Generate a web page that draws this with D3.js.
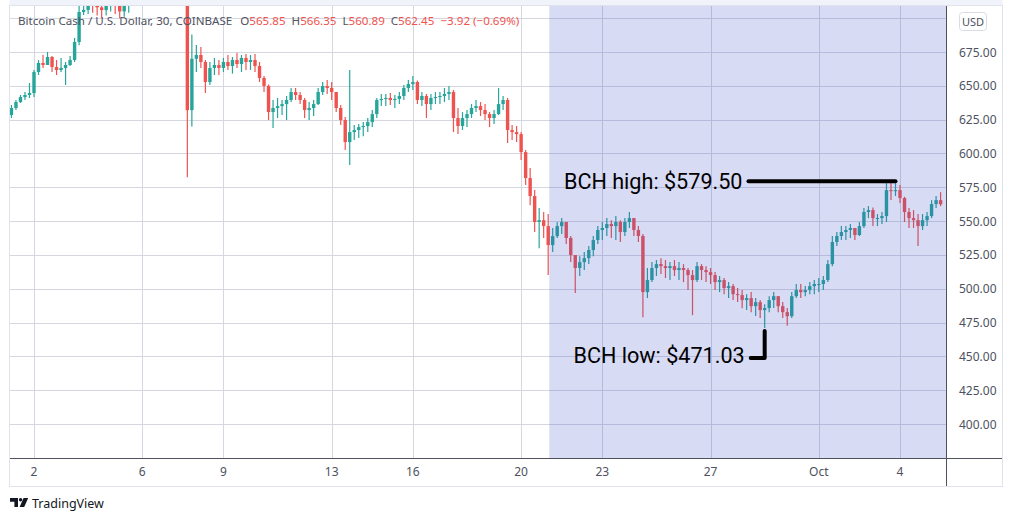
<!DOCTYPE html>
<html>
<head>
<meta charset="utf-8">
<script src="https://cdn.jsdelivr.net/npm/d3@7/dist/d3.min.js"></script>
<style>
  body { margin: 0; background: #fff; }
  svg { display: block; }
</style>
</head>
<body>
<div id="chart"></div>
<script>
"use strict";

// BCH / USD, 4 hour bars from Sep 1 04:00 to Oct 5 12:00
// open of each bar is the close of the one before
const startTime = new Date(2021, 8, 1, 4);
const barHours = 4;
const firstOpen = 628.4;

const high = [
  635.8, 639.5, 643.2, 645.4, 652.1,                 // Sep 1
  661.7, 669.1, 672.8, 675.0, 672.0, 669.1,          // Sep 2
  670.6, 667.6, 672.0, 685.4, 709.0, 715.0,          // Sep 3
  720, 722, 718, 716, 720, 724,                      // Sep 4
  722, 716, 714, 720, 728, 732,                      // Sep 5
  735, 738, 734, 730, 736, 740,                      // Sep 6
  742, 740, 734, 730, 728, 688,                      // Sep 7
  680.2, 678.7, 669.1, 667.6, 670.6, 669.1,          // Sep 8
  670.6, 672.8, 671.3, 674.3, 672.8, 673.5,          // Sep 9
  672.8, 673.5, 667.6, 657.3, 651.0, 639.5,          // Sep 10
  641.0, 639.5, 642.5, 648.4, 648.4, 645.4,          // Sep 11
  641.0, 638.0, 639.5, 648.4, 652.8, 654.3,          // Sep 12
  652.8, 645.4, 635.8, 626.9, 661.7, 621.0,          // Sep 13
  621.7, 623.2, 626.2, 632.1, 641.0, 644.0,          // Sep 14
  644.0, 644.7, 643.2, 645.4, 650.6, 654.3,          // Sep 15
  657.3, 654.0, 645.4, 644.0, 644.0, 645.4,          // Sep 16
  645.4, 648.4, 649.9, 647.0, 633.6, 630.6,          // Sep 17
  632.1, 636.5, 639.5, 638.0, 636.5, 630.6,          // Sep 18
  632.1, 648.4, 642.5, 641.0, 621.0, 620.3,          // Sep 19
  615.8, 602.5, 589.2, 572.9, 559.6, 556.7,          // Sep 20
  555.2, 544.9, 549.3, 552.2, 549.3, 539.0,          // Sep 21
  524.9, 524.1, 527.1, 531.5, 538.9, 546.3,          // Sep 22
  549.3, 552.2, 550.7, 553.7, 550.7, 552.2,          // Sep 23
  556.7, 552.2, 546.3, 540.4, 515.3, 519.7,          // Sep 24
  521.2, 522.6, 521.2, 519.7, 521.2, 519.7,          // Sep 25
  518.2, 515.3, 513.8, 519.7, 518.2, 516.7,          // Sep 26
  515.3, 512.3, 509.4, 507.9, 504.9, 503.5,          // Sep 27
  500.5, 499.0, 496.0, 497.5, 493.1, 491.6,          // Sep 28
  488.6, 494.5, 497.5, 494.5, 490.1, 485.7,          // Sep 29
  497.5, 503.5, 503.5, 502.0, 504.9, 506.4,          // Sep 30
  507.9, 509.4, 521.2, 539.0, 541.9, 546.3,          // Oct 1
  546.3, 547.8, 544.9, 549.3, 559.6, 561.1,          // Oct 2
  560.0, 555.2, 556.7, 578.0, 579.0, 579.5,          // Oct 3
  576.6, 568.0, 559.6, 558.1, 555.2, 555.2,          // Oct 4
  556.7, 565.5, 568.5, 571.4                         // Oct 5
];

const low = [
  626.2, 632.1, 637.3, 639.5, 641.0,
  641.7, 658.0, 663.2, 665.4, 660.2, 658.0,
  660.2, 650.6, 664.6, 667.6, 680.0, 702.4,
  703, 704, 702, 700, 702, 705,
  703, 700, 701, 704, 712, 716,
  718, 720, 718, 714, 716, 722,
  724, 720, 716, 712, 582.5, 620,
  660.2, 663.2, 644.7, 650.6, 658.0, 658.0,
  660.2, 661.7, 659.0, 663.2, 660.2, 661.7,
  661.7, 660.2, 652.8, 645.4, 624.7, 618.8,
  626.2, 628.4, 624.7, 638.0, 639.5, 636.5,
  626.2, 624.7, 627.7, 635.8, 643.2, 644.0,
  639.5, 630.6, 621.0, 602.5, 591.4, 609.9,
  611.4, 612.8, 615.8, 619.5, 626.2, 635.0,
  635.0, 635.8, 633.6, 636.5, 639.5, 645.4,
  646.9, 636.5, 635.0, 626.2, 632.1, 636.5,
  636.5, 638.0, 639.5, 615.8, 614.3, 617.3,
  619.5, 626.2, 630.6, 627.7, 624.7, 619.5,
  621.7, 628.4, 632.1, 607.7, 609.9, 608.4,
  595.1, 576.6, 561.8, 541.9, 530.0, 537.5,
  510.1, 527.1, 537.5, 540.4, 533.0, 519.7,
  496.8, 509.4, 513.8, 518.2, 524.1, 533.0,
  536.0, 539.0, 537.5, 536.0, 534.5, 539.0,
  544.9, 539.0, 534.5, 479.0, 493.1, 504.9,
  509.4, 510.8, 507.9, 506.4, 509.4, 506.4,
  504.9, 499.0, 480.5, 504.9, 506.4, 504.9,
  503.5, 499.0, 497.5, 496.0, 493.1, 491.6,
  490.1, 485.6, 484.2, 482.7, 479.8, 478.3,
  471.03, 482.7, 485.7, 482.7, 478.3, 472.6,
  478.3, 493.1, 493.1, 494.5, 496.0, 496.0,
  497.5, 499.0, 504.9, 516.7, 531.5, 536.0,
  536.0, 537.5, 536.0, 539.0, 544.9, 552.2,
  546.3, 546.3, 547.8, 549.3, 565.5, 568.5,
  563.3, 549.3, 544.9, 544.9, 531.5, 543.4,
  546.3, 552.2, 559.6, 561.1
];

const close = [
  633.6, 638.0, 641.7, 643.2, 644.7,
  660.2, 666.9, 665.4, 671.3, 663.9, 661.7,
  663.2, 665.4, 669.1, 682.4, 704.6, 706.1,
  712, 710, 708, 706, 714, 716,
  712, 705, 709, 716, 722, 726,
  728, 730, 724, 720, 728, 732,
  734, 726, 722, 724, 632, 670,
  672.8, 667.6, 652.8, 663.2, 665.4, 663.2,
  667.6, 664.6, 669.1, 666.1, 670.6, 667.6,
  669.1, 664.6, 655.8, 649.9, 630.6, 633.6,
  635.0, 636.5, 639.5, 645.4, 643.2, 639.5,
  632.1, 633.6, 636.5, 645.4, 649.9, 648.4,
  645.4, 633.6, 624.7, 608.4, 615.8, 617.3,
  619.5, 620.3, 623.2, 629.1, 639.5, 640.3,
  641.0, 639.5, 640.3, 642.5, 648.4, 651.3,
  652.8, 639.5, 642.5, 636.5, 641.0, 641.7,
  642.5, 644.0, 645.4, 626.2, 620.3, 626.2,
  629.1, 633.6, 635.0, 632.1, 629.1, 626.2,
  629.1, 636.5, 639.5, 617.3, 615.8, 614.3,
  601.0, 581.8, 568.5, 549.3, 550.7, 546.3,
  532.3, 538.9, 546.3, 549.3, 537.5, 524.9,
  515.3, 519.7, 522.6, 528.6, 536.0, 543.4,
  544.9, 547.8, 546.3, 549.3, 541.9, 549.3,
  552.2, 543.4, 539.0, 497.5, 506.4, 515.3,
  518.2, 516.7, 515.3, 516.7, 513.8, 515.3,
  513.8, 510.1, 506.4, 516.7, 513.8, 512.3,
  510.1, 504.9, 506.4, 500.5, 501.9, 496.0,
  495.3, 491.6, 493.1, 487.1, 490.1, 484.2,
  485.7, 491.6, 494.5, 487.1, 482.7, 479.7,
  494.5, 499.0, 497.5, 499.0, 501.9, 503.5,
  503.5, 506.4, 518.2, 534.5, 539.0, 541.9,
  543.4, 544.9, 539.7, 546.3, 556.7, 558.1,
  552.2, 552.2, 553.7, 572.9, 572.1, 572.9,
  567.0, 556.7, 552.2, 550.7, 546.3, 550.7,
  553.7, 562.6, 565.5, 562.45
];

const priceTicks = [400, 425, 450, 475, 500, 525, 550, 575, 600, 625, 650, 675, 700];
const dateTicks = [
  new Date(2021, 8, 2), new Date(2021, 8, 6), new Date(2021, 8, 9),
  new Date(2021, 8, 13), new Date(2021, 8, 16), new Date(2021, 8, 20),
  new Date(2021, 8, 23), new Date(2021, 8, 27), new Date(2021, 9, 1),
  new Date(2021, 9, 4)
];
const dateLabels = ["2", "6", "9", "13", "16", "20", "23", "27", "Oct", "4"];

const shadeStart = new Date(2021, 8, 21, 1);
const highMark = { t: new Date(2021, 9, 3, 20), price: 579.50, label: "BCH high: $579.50" };
const lowMark = { t: new Date(2021, 8, 29, 0), price: 471.03, label: "BCH low: $471.03" };

const legendTitle = "Bitcoin Cash / U.S. Dollar, 30, COINBASE";
const legendKeys = ["O", "H", "L", "C"];
const legendValues = ["565.85", "566.35", "560.89", "562.45"];
const legendChange = "\u22123.92 (\u22120.69%)";

// ---- layout
const W = 1012, H = 521;
const pane = { left: 10, right: 946, top: 6, bottom: 458 };
const frameRight = 1002, frameBottom = 486;
const upColor = "#26a69a", downColor = "#ef5350";
const gridColor = "#d5d7e0";
const textColor = "#4e5160";
const font = "'Noto Sans', 'Open Sans', sans-serif";

const x = d3.scaleTime()
  .domain([dateTicks[0], dateTicks[dateTicks.length - 1]])
  .range([34, 900]);
const y = d3.scaleLinear().domain([400, 675]).range([424, 52]);

const bars = close.map((c, i) => ({
  t: d3.timeHour.offset(startTime, i * barHours),
  o: i ? close[i - 1] : firstOpen,
  h: high[i], l: low[i], c: c
}));

const svg = d3.select("#chart").append("svg")
  .attr("width", W).attr("height", H)
  .attr("font-family", font);

svg.append("defs").append("clipPath").attr("id", "pane")
  .append("rect")
  .attr("x", pane.left).attr("y", pane.top)
  .attr("width", pane.right - pane.left).attr("height", pane.bottom - pane.top);

// frame
svg.append("rect")
  .attr("x", pane.left - 0.5).attr("y", 0)
  .attr("width", frameRight - pane.left + 1).attr("height", pane.top)
  .attr("fill", "#f0f3fa");
svg.append("rect")
  .attr("x", pane.left - 0.5).attr("y", pane.top - 0.5)
  .attr("width", frameRight - pane.left + 1).attr("height", frameBottom - pane.top + 1)
  .attr("fill", "none").attr("stroke", "#e0e3eb");

const g = svg.append("g").attr("clip-path", "url(#pane)");

// grid
g.selectAll(".hgrid").data(priceTicks).join("line")
  .attr("x1", pane.left).attr("x2", pane.right)
  .attr("y1", d => Math.round(y(d)) + 0.5).attr("y2", d => Math.round(y(d)) + 0.5)
  .attr("stroke", gridColor);
g.selectAll(".vgrid").data(dateTicks).join("line")
  .attr("y1", pane.top).attr("y2", pane.bottom)
  .attr("x1", d => Math.round(x(d)) + 0.5).attr("x2", d => Math.round(x(d)) + 0.5)
  .attr("stroke", gridColor);

// candles
const bodyW = 3.4;
const cg = g.append("g");
cg.selectAll("line").data(bars).join("line")
  .attr("x1", d => x(d.t)).attr("x2", d => x(d.t))
  .attr("y1", d => y(Math.max(d.h, d.o, d.c)))
  .attr("y2", d => y(Math.min(d.l, d.o, d.c)))
  .attr("stroke", d => d.c >= d.o ? upColor : downColor)
  .attr("stroke-width", 1.2);
cg.selectAll("rect").data(bars).join("rect")
  .attr("x", d => x(d.t) - bodyW / 2)
  .attr("y", d => y(Math.max(d.o, d.c)))
  .attr("width", bodyW)
  .attr("height", d => Math.max(1, Math.abs(y(d.o) - y(d.c))))
  .attr("fill", d => d.c >= d.o ? upColor : downColor);

// shaded date range (drawn over the candles, like the original)
g.append("rect")
  .attr("x", x(shadeStart)).attr("y", pane.top)
  .attr("width", pane.right - x(shadeStart)).attr("height", pane.bottom - pane.top)
  .attr("fill", "rgba(60, 75, 200, 0.2)");

// axis borders
svg.append("line")
  .attr("x1", pane.right + 0.5).attr("x2", pane.right + 0.5)
  .attr("y1", pane.top).attr("y2", frameBottom)
  .attr("stroke", "#50535e");
svg.append("line")
  .attr("x1", pane.left).attr("x2", frameRight)
  .attr("y1", pane.bottom + 0.5).attr("y2", pane.bottom + 0.5)
  .attr("stroke", "#50535e");

// price axis labels
svg.append("g").selectAll("text").data(priceTicks.filter(p => p < 700)).join("text")
  .attr("x", 959).attr("y", d => y(d) + 4.5)
  .attr("font-size", 12).attr("fill", textColor)
  .text(d => d3.format(".2f")(d));

svg.append("rect")
  .attr("x", 959.5).attr("y", 12.5).attr("width", 27).attr("height", 18).attr("rx", 3)
  .attr("fill", "#fff").attr("stroke", "#d9dce4");
svg.append("text")
  .attr("x", 973).attr("y", 26).attr("text-anchor", "middle")
  .attr("font-size", 11).attr("fill", textColor).text("USD");

// time axis labels
svg.append("g").selectAll("text").data(dateTicks).join("text")
  .attr("x", d => x(d)).attr("y", 476).attr("text-anchor", "middle")
  .attr("font-size", 12).attr("fill", textColor)
  .text((d, i) => dateLabels[i]);

// legend line
const legend = svg.append("text")
  .attr("x", 18).attr("y", 25).attr("font-size", 11.6);
legend.append("tspan").attr("fill", textColor).text(legendTitle);
legendKeys.forEach((k, i) => {
  legend.append("tspan").attr("dx", i ? 6 : 8).attr("fill", textColor).text(k);
  legend.append("tspan").attr("fill", downColor).text(legendValues[i]);
});
legend.append("tspan").attr("dx", 6).attr("fill", downColor).text(legendChange);

// annotations
const ann = svg.append("g");
const hx = x(highMark.t), hy = y(highMark.price);
ann.append("line")
  .attr("x1", hx - 147).attr("x2", hx).attr("y1", hy).attr("y2", hy)
  .attr("stroke", "#000").attr("stroke-width", 4).attr("stroke-linecap", "round");
ann.append("text")
  .attr("x", hx - 153).attr("y", hy + 7.5).attr("text-anchor", "end")
  .attr("font-family", "Roboto, sans-serif").attr("font-size", 21.6).attr("fill", "#000")
  .text(highMark.label);

const lx = x(lowMark.t), ly = y(lowMark.price);
ann.append("path")
  .attr("d", `M${lx - 14},${ly + 30}H${lx}V${ly + 3}`)
  .attr("fill", "none").attr("stroke", "#000").attr("stroke-width", 4)
  .attr("stroke-linecap", "round").attr("stroke-linejoin", "round");
ann.append("text")
  .attr("x", lx - 20).attr("y", ly + 35.5).attr("text-anchor", "end")
  .attr("font-family", "Roboto, sans-serif").attr("font-size", 21.6).attr("fill", "#000")
  .text(lowMark.label);

// TradingView mark
const tv = svg.append("g").attr("fill", "#131722");
tv.append("path").attr("d", "M10,498h8v9h-3.6v-5.2H10z");
tv.append("circle").attr("cx", 20.6).attr("cy", 499.7).attr("r", 1.7);
tv.append("path").attr("d", "M23.6,498h4.6l-4,9h-4.6z");
svg.append("text")
  .attr("x", 32).attr("y", 507.5).attr("font-size", 12.5).attr("fill", "#131722")
  .text("TradingView");
</script>
</body>
</html>
